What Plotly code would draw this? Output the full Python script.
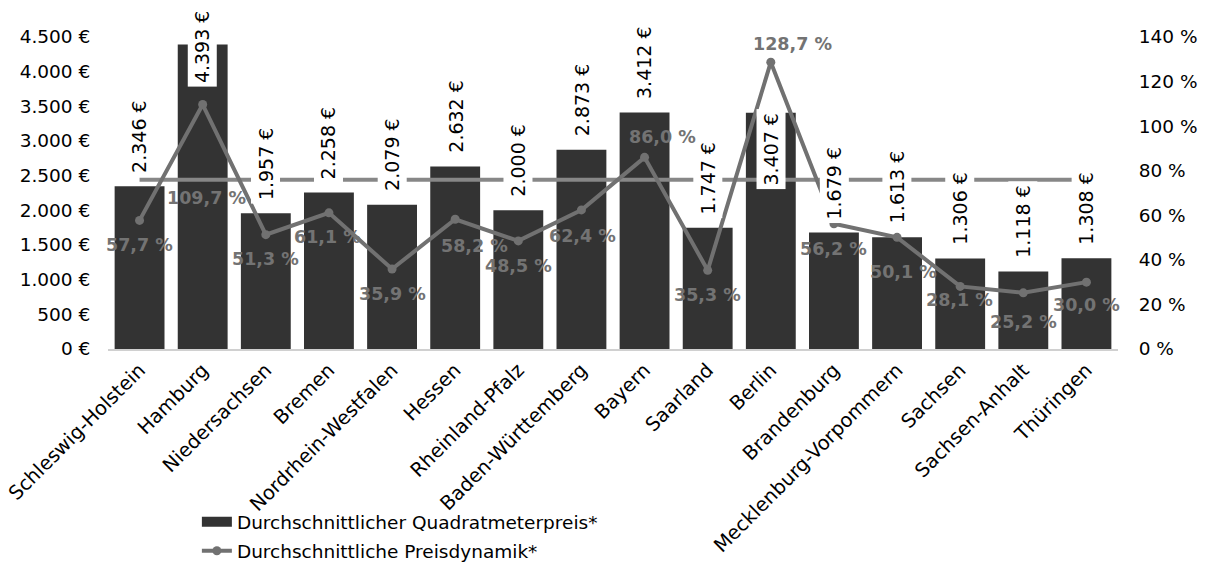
import plotly.graph_objects as go

# Bundesländer in chart order
laender = [
    "Schleswig-Holstein", "Hamburg", "Niedersachsen", "Bremen",
    "Nordrhein-Westfalen", "Hessen", "Rheinland-Pfalz", "Baden-Württemberg",
    "Bayern", "Saarland", "Berlin", "Brandenburg",
    "Mecklenburg-Vorpommern", "Sachsen", "Sachsen-Anhalt", "Thüringen",
]

# Durchschnittlicher Quadratmeterpreis in Euro
preis = [2346, 4393, 1957, 2258, 2079, 2632, 2000, 2873,
         3412, 1747, 3407, 1679, 1613, 1306, 1118, 1308]

# Durchschnittliche Preisdynamik in Prozent
dynamik = [57.7, 109.7, 51.3, 61.1, 35.9, 58.2, 48.5, 62.4,
           86.0, 35.3, 128.7, 56.2, 50.1, 28.1, 25.2, 30.0]

# Horizontal reference level on the percent axis
referenz = [76.0, 76.0]

# Axis ticks
preis_ticks = [0, 500, 1000, 1500, 2000, 2500, 3000, 3500, 4000, 4500]
preis_ticktext = ["0 €", "500 €", "1.000 €", "1.500 €", "2.000 €", "2.500 €",
                  "3.000 €", "3.500 €", "4.000 €", "4.500 €"]
dyn_ticks = [0, 20, 40, 60, 80, 100, 120, 140]
dyn_ticktext = ["0 %", "20 %", "40 %", "60 %", "80 %", "100 %", "120 %", "140 %"]

# Label placement offsets in pixels (x, y); positive y moves up
preis_label_shift = [50, -2, 50, 50, 50, 50, 50, 50,
                     50, 50, -36, 50, 50, 50, 50, 50]
dyn_label_shift = [(0, -25), (4, -93), (0, -24), (-1, -24), (0, -25), (19, -27),
                   (0, -25), (1, -26), (18, 20), (0, -25), (22, 18), (0, -25),
                   (6, -35), (-1, -14), (0, -29), (0, -23)]

FONT = "DejaVu Sans, Verdana, sans-serif"
BAR_COLOR = "#333333"
LINE_COLOR = "#717171"
REF_COLOR = "#878787"

BAR_NAME = "Durchschnittlicher Quadratmeterpreis*"
LINE_NAME = "Durchschnittliche Preisdynamik*"


def fmt_euro(v):
    return f"{v:,}".replace(",", ".") + " €"


def fmt_pct(v):
    return f"{v:.1f}".replace(".", ",") + " %"


fig = go.Figure()

fig.add_trace(go.Bar(
    x=laender, y=preis, name=BAR_NAME,
    marker=dict(color=BAR_COLOR, line=dict(width=0)),
    showlegend=False, yaxis="y",
))

# Wide rectangular legend swatch for the bar series
fig.add_trace(go.Scatter(
    x=[None], y=[None], mode="lines", name=BAR_NAME,
    line=dict(color=BAR_COLOR, width=12),
    legendgroup="a", hoverinfo="skip", yaxis="y",
))

fig.add_trace(go.Scatter(
    x=[laender[0], laender[-1]], y=referenz, mode="lines",
    line=dict(color=REF_COLOR, width=4), showlegend=False,
    hoverinfo="skip", yaxis="y2",
))

fig.add_trace(go.Scatter(
    x=laender, y=dynamik, name=LINE_NAME,
    mode="lines+markers",
    line=dict(color=LINE_COLOR, width=4),
    marker=dict(color=LINE_COLOR, size=9),
    legendgroup="b", yaxis="y2",
))

annotations = []
for land, v, dy in zip(laender, preis, preis_label_shift):
    annotations.append(dict(
        x=land, y=v, xref="x", yref="y", text=fmt_euro(v),
        showarrow=False, textangle=-90, yshift=dy,
        xanchor="center", yanchor="middle",
        font=dict(family=FONT, size=19, color="#000000"),
        bgcolor="#ffffff", borderpad=3,
    ))
for land, v, (dx, dy) in zip(laender, dynamik, dyn_label_shift):
    annotations.append(dict(
        x=land, y=v, xref="x", yref="y2", text=f"<b>{fmt_pct(v)}</b>",
        showarrow=False, xshift=dx, yshift=dy,
        xanchor="center", yanchor="middle",
        font=dict(family=FONT, size=17.5, color="#737373"),
    ))

fig.update_layout(
    width=1206, height=570,
    margin=dict(l=108, r=88, t=37, b=221, autoexpand=False),
    paper_bgcolor="#ffffff", plot_bgcolor="#ffffff",
    font=dict(family=FONT, size=18.5, color="#000000"),
    bargap=0.21,
    xaxis=dict(
        range=[-0.5, len(laender) - 0.5],
        tickangle=-45, showgrid=False, zeroline=False, automargin=False,
        showline=True, linecolor="#d0d0d0", linewidth=2,
        ticks="", tickfont=dict(size=19.5, color="#000000"),
    ),
    yaxis=dict(
        range=[0, 4500], tickvals=preis_ticks, ticktext=preis_ticktext,
        showgrid=False, zeroline=False, showline=False, automargin=False,
        ticks="outside", ticklen=13, tickcolor="rgba(0,0,0,0)",
        tickfont=dict(size=18.5, color="#000000"),
    ),
    yaxis2=dict(
        range=[0, 140], tickvals=dyn_ticks, ticktext=dyn_ticktext,
        overlaying="y", side="right", automargin=False,
        showgrid=False, zeroline=False, showline=False,
        ticks="outside", ticklen=16, tickcolor="rgba(0,0,0,0)",
        tickfont=dict(size=18.5, color="#000000"),
    ),
    legend=dict(
        x=0.088, y=-0.494, xanchor="left", yanchor="top",
        orientation="v", traceorder="grouped", tracegroupgap=2,
        font=dict(family=FONT, size=18.5, color="#000000"),
        bgcolor="rgba(0,0,0,0)",
    ),
    annotations=annotations,
    showlegend=True,
)

fig.write_html("out.html")
